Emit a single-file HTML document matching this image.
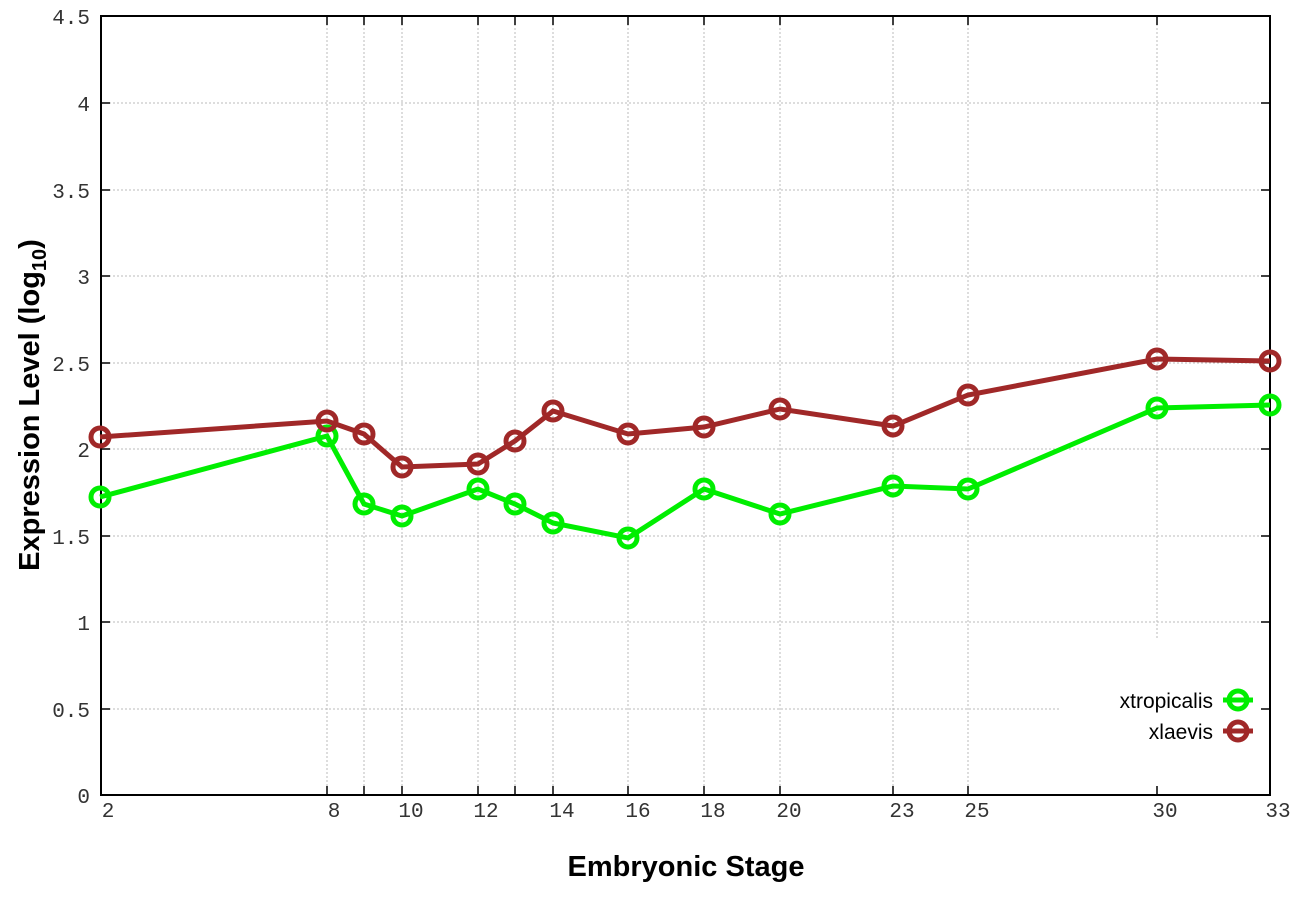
<!DOCTYPE html>
<html><head><style>body{margin:0;background:#fff}</style></head><body>
<svg width="1296" height="907" xmlns="http://www.w3.org/2000/svg">
<g stroke="#bbb" stroke-width="1" stroke-dasharray="2,2">
<line x1="101" x2="1270" y1="103" y2="103"/><line x1="101" x2="1270" y1="190" y2="190"/><line x1="101" x2="1270" y1="276" y2="276"/><line x1="101" x2="1270" y1="363" y2="363"/><line x1="101" x2="1270" y1="449" y2="449"/><line x1="101" x2="1270" y1="536" y2="536"/><line x1="101" x2="1270" y1="622" y2="622"/><line x1="101" x2="1060" y1="709" y2="709"/>
<line x1="327" x2="327" y1="16" y2="795"/><line x1="364" x2="364" y1="16" y2="795"/><line x1="402" x2="402" y1="16" y2="795"/><line x1="478" x2="478" y1="16" y2="795"/><line x1="515" x2="515" y1="16" y2="795"/><line x1="553" x2="553" y1="16" y2="795"/><line x1="628" x2="628" y1="16" y2="795"/><line x1="704" x2="704" y1="16" y2="795"/><line x1="780" x2="780" y1="16" y2="795"/><line x1="893" x2="893" y1="16" y2="795"/><line x1="968" x2="968" y1="16" y2="795"/><line x1="1157" x2="1157" y1="16" y2="640"/>
</g>
<g stroke="#000" stroke-width="1.5">
<path d="M101 103h9M101 190h9M101 276h9M101 363h9M101 449h9M101 536h9M101 622h9M101 709h9M1270 103h-9M1270 190h-9M1270 276h-9M1270 363h-9M1270 449h-9M1270 536h-9M1270 622h-9M1270 709h-9"/>
<path d="M327 795v-9M364 795v-9M402 795v-9M478 795v-9M515 795v-9M553 795v-9M628 795v-9M704 795v-9M780 795v-9M893 795v-9M968 795v-9M1157 795v-9M327 16v9M364 16v9M402 16v9M478 16v9M515 16v9M553 16v9M628 16v9M704 16v9M780 16v9M893 16v9M968 16v9M1157 16v9"/>
</g>
<rect x="101" y="16" width="1169" height="779" fill="none" stroke="#000" stroke-width="2"/>
<g font-family="Liberation Mono, monospace" font-size="21" fill="#333" text-anchor="end">
<text x="90" y="24">4.5</text><text x="90" y="111">4</text><text x="90" y="198">3.5</text><text x="90" y="284">3</text><text x="90" y="371">2.5</text><text x="90" y="457">2</text><text x="90" y="544">1.5</text><text x="90" y="630">1</text><text x="90" y="717">0.5</text><text x="90" y="803">0</text>
</g>
<g font-family="Liberation Mono, monospace" font-size="21" fill="#333" text-anchor="middle">
<text x="108" y="817">2</text><text x="334" y="817">8</text><text x="411" y="817">10</text><text x="486" y="817">12</text><text x="562" y="817">14</text><text x="638" y="817">16</text><text x="713" y="817">18</text><text x="789" y="817">20</text><text x="902" y="817">23</text><text x="977" y="817">25</text><text x="1165" y="817">30</text><text x="1278" y="817">33</text>
</g>
<text x="686" y="876" font-family="Liberation Sans, sans-serif" font-weight="bold" font-size="29" text-anchor="middle">Embryonic Stage</text>
<text transform="translate(39,405) rotate(-90)" font-family="Liberation Sans, sans-serif" font-weight="bold" font-size="29" text-anchor="middle">Expression Level (log<tspan font-size="20" dy="7">10</tspan><tspan dy="-7">)</tspan></text>
<g fill="none" stroke-width="5">
<polyline stroke="#00ee00" points="100,497 327,436 364,504 402,516 478,489 515,504 553,523 628,538 704,489 780,514 893,486 968,489 1157,408 1270,405"/>
<polyline stroke="#a02828" points="100,437 327,421 364,434 402,467 478,464 515,441 553,411 628,434 704,427 780,409 893,426 968,395 1157,359 1270,361"/>
<g stroke="#00ee00"><circle cx="100" cy="497" r="9"/><circle cx="327" cy="436" r="9"/><circle cx="364" cy="504" r="9"/><circle cx="402" cy="516" r="9"/><circle cx="478" cy="489" r="9"/><circle cx="515" cy="504" r="9"/><circle cx="553" cy="523" r="9"/><circle cx="628" cy="538" r="9"/><circle cx="704" cy="489" r="9"/><circle cx="780" cy="514" r="9"/><circle cx="893" cy="486" r="9"/><circle cx="968" cy="489" r="9"/><circle cx="1157" cy="408" r="9"/><circle cx="1270" cy="405" r="9"/></g>
<g stroke="#a02828"><circle cx="100" cy="437" r="9"/><circle cx="327" cy="421" r="9"/><circle cx="364" cy="434" r="9"/><circle cx="402" cy="467" r="9"/><circle cx="478" cy="464" r="9"/><circle cx="515" cy="441" r="9"/><circle cx="553" cy="411" r="9"/><circle cx="628" cy="434" r="9"/><circle cx="704" cy="427" r="9"/><circle cx="780" cy="409" r="9"/><circle cx="893" cy="426" r="9"/><circle cx="968" cy="395" r="9"/><circle cx="1157" cy="359" r="9"/><circle cx="1270" cy="361" r="9"/></g>
<line x1="1223" x2="1253" y1="700" y2="700" stroke="#00ee00"/><circle cx="1238" cy="700" r="9" stroke="#00ee00"/>
<line x1="1223" x2="1253" y1="731" y2="731" stroke="#a02828"/><circle cx="1238" cy="731" r="9" stroke="#a02828"/>
</g>
<g font-family="Liberation Sans, sans-serif" font-size="21" text-anchor="end">
<text x="1213" y="708">xtropicalis</text><text x="1213" y="739">xlaevis</text>
</g>
</svg>
</body></html>
